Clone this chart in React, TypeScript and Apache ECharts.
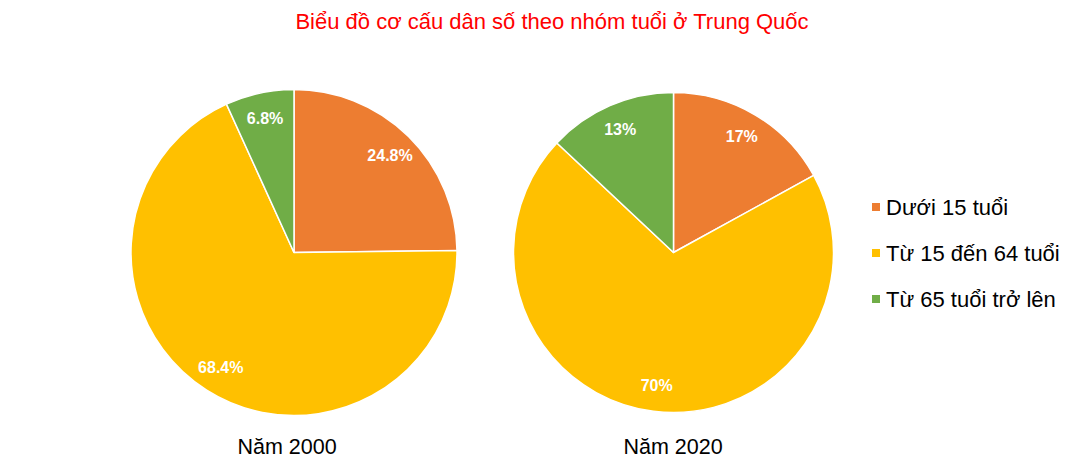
import { useEffect, useRef } from 'react';
import * as echarts from 'echarts';

const groups = ['Dưới 15 tuổi', 'Từ 15 đến 64 tuổi', 'Từ 65 tuổi trở lên'];
const colors = ['#ED7D31', '#FFC000', '#70AD47'];
const share2000 = [24.8, 68.4, 6.8];
const share2020 = [17, 70, 13];
const years = ['Năm 2000', 'Năm 2020'];

const pies = [
    { values: share2000, center: [294, 252.5], r: 163, label: years[0], labelX: 287 },
    { values: share2020, center: [673.5, 252.5], r: 160, label: years[1], labelX: 673 },
];

const App = () => {
    const chartRef = useRef<HTMLDivElement>(null);

    useEffect(() => {
        if (!chartRef.current) return;
        const chart = echarts.init(chartRef.current, null, { renderer: 'svg' });

        const series: any[] = [];
        pies.forEach(p => {
            const data = groups.map((name, k) => ({
                name,
                value: p.values[k],
                itemStyle: { color: colors[k] },
            }));
            // the pie itself
            series.push({
                type: 'pie',
                name: p.label,
                center: p.center,
                radius: [0, p.r],
                startAngle: 90,
                clockwise: true,
                data,
                label: { show: false },
                labelLine: { show: false },
                itemStyle: { borderColor: '#fff', borderWidth: 1.5 },
                emphasis: { disabled: true },
            });
            // transparent ring, only used to put the labels further out
            series.push({
                type: 'pie',
                name: p.label + ' labels',
                center: p.center,
                radius: [p.r * 0.64, p.r],
                startAngle: 90,
                clockwise: true,
                silent: true,
                data: data.map(d => ({ ...d, itemStyle: { color: 'transparent' } })),
                label: {
                    show: true,
                    position: 'inside',
                    formatter: (params: any) => `${params.value}%`,
                    color: '#fff',
                    fontSize: 16,
                    fontWeight: 'bold',
                    fontFamily: 'Liberation Sans, Arial, sans-serif',
                },
                labelLine: { show: false },
                emphasis: { disabled: true },
                legendHoverLink: false,
            });
        });

        chart.setOption({
            animation: false,
            legend: {
                orient: 'vertical',
                left: 870,
                top: 195,
                padding: 0,
                itemWidth: 10,
                itemHeight: 10,
                itemGap: 22,
                icon: 'rect',
                data: groups,
                selectedMode: false,
                textStyle: {
                    fontSize: 22,
                    lineHeight: 24,
                    color: '#000',
                    fontFamily: 'Liberation Sans, Arial, sans-serif',
                },
            },
            graphic: [
                {
                    type: 'text',
                    x: 552,
                    y: 21,
                    style: {
                        text: 'Biểu đồ cơ cấu dân số theo nhóm tuổi ở Trung Quốc',
                        fill: '#FF0000',
                        font: '22px "Liberation Sans", Arial, sans-serif',
                        textAlign: 'center',
                        textVerticalAlign: 'middle',
                    },
                },
                ...pies.map(p => ({
                    type: 'text',
                    x: p.labelX,
                    y: 447,
                    style: {
                        text: p.label,
                        fill: '#000',
                        font: '21.5px "Liberation Sans", Arial, sans-serif',
                        textAlign: 'center',
                        textVerticalAlign: 'middle',
                    },
                })),
            ],
            series,
        });

        return () => {
            chart.dispose();
        };
    }, []);

    return (
        <div
            ref={chartRef}
            style={{
                position: 'fixed',
                left: 0,
                top: 0,
                width: '1075px',
                height: '474px',
                background: '#fff',
            }}
        />
    );
};

export default App;
